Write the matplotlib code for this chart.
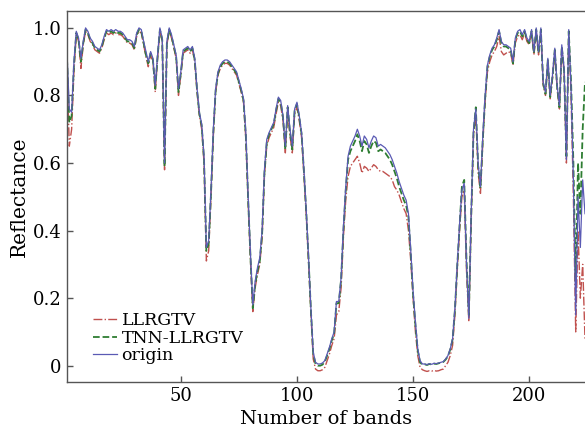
import numpy as np
import matplotlib
matplotlib.use("Agg")
import matplotlib.pyplot as plt

# reflectance spectra, one value per band (1..224)
origin = [
    0.93, 0.76, 0.75, 0.90, 0.99, 0.97, 0.91, 0.96, 1.00, 0.99,
    0.97, 0.96, 0.945, 0.94, 0.935, 0.95, 0.975, 0.995, 0.99, 0.995,
    0.99, 0.995, 0.99, 0.99, 0.985, 0.975, 0.965, 0.965, 0.96, 0.945,
    0.985, 1.00, 0.995, 0.96, 0.93, 0.90, 0.93, 0.91, 0.83, 0.92,
    1.00, 0.97, 0.60, 0.96, 1.00, 0.98, 0.95, 0.92, 0.82, 0.87,
    0.935, 0.94, 0.945, 0.935, 0.945, 0.91, 0.82, 0.75, 0.715, 0.62,
    0.35, 0.37, 0.52, 0.70, 0.82, 0.87, 0.89, 0.90, 0.905, 0.905,
    0.90, 0.89, 0.88, 0.87, 0.845, 0.82, 0.79, 0.69, 0.50, 0.33,
    0.18, 0.25, 0.29, 0.32, 0.40, 0.58, 0.67, 0.69, 0.705, 0.72,
    0.76, 0.795, 0.785, 0.74, 0.65, 0.77, 0.70, 0.65, 0.76, 0.78,
    0.74, 0.69, 0.58, 0.46, 0.32, 0.17, 0.04, 0.01, 0.005, 0.005,
    0.008, 0.015, 0.035, 0.055, 0.08, 0.10, 0.19, 0.19, 0.26, 0.41,
    0.53, 0.62, 0.65, 0.665, 0.68, 0.70, 0.68, 0.65, 0.68, 0.67,
    0.645, 0.665, 0.68, 0.675, 0.65, 0.655, 0.65, 0.645, 0.635, 0.625,
    0.61, 0.59, 0.57, 0.545, 0.525, 0.505, 0.49, 0.45, 0.34, 0.22,
    0.13, 0.05, 0.015, 0.005, 0.005, 0.003, 0.006, 0.004, 0.007, 0.006,
    0.008, 0.01, 0.012, 0.02, 0.03, 0.05, 0.08, 0.17, 0.30, 0.42,
    0.52, 0.54, 0.30, 0.14, 0.45, 0.70, 0.76, 0.60, 0.53, 0.68,
    0.80, 0.89, 0.92, 0.94, 0.95, 0.97, 0.995, 0.96, 0.95, 0.95,
    0.945, 0.94, 0.90, 0.97, 0.99, 0.995, 0.98, 0.995, 0.97, 0.96,
    0.995, 0.93, 1.00, 0.93, 1.00, 0.84, 0.81, 0.91, 0.80, 0.86,
    0.94, 0.83, 0.77, 0.95, 0.88, 0.61, 0.995, 0.82, 0.55, 0.15,
    0.50, 0.35, 0.55, 0.45,
]

tnn_llrgtv = [
    0.91, 0.72, 0.74, 0.89, 0.985, 0.965, 0.90, 0.955, 0.995, 0.985,
    0.965, 0.955, 0.94, 0.935, 0.93, 0.945, 0.97, 0.99, 0.985, 0.99,
    0.985, 0.99, 0.985, 0.985, 0.98, 0.97, 0.96, 0.96, 0.955, 0.94,
    0.98, 0.995, 0.99, 0.955, 0.92, 0.895, 0.925, 0.905, 0.82, 0.915,
    0.995, 0.965, 0.59, 0.955, 0.995, 0.975, 0.945, 0.915, 0.81, 0.865,
    0.93, 0.935, 0.94, 0.93, 0.94, 0.905, 0.815, 0.745, 0.71, 0.61,
    0.34, 0.36, 0.51, 0.69, 0.815, 0.865, 0.885, 0.895, 0.90, 0.90,
    0.895, 0.885, 0.875, 0.865, 0.84, 0.815, 0.785, 0.68, 0.49, 0.32,
    0.17, 0.24, 0.28, 0.31, 0.39, 0.57, 0.66, 0.685, 0.70, 0.715,
    0.755, 0.79, 0.78, 0.735, 0.64, 0.765, 0.69, 0.64, 0.755, 0.775,
    0.735, 0.685, 0.575, 0.455, 0.315, 0.165, 0.035, 0.005, 0.0, 0.0,
    0.003, 0.012, 0.03, 0.05, 0.075, 0.095, 0.185, 0.185, 0.255, 0.40,
    0.52, 0.61, 0.635, 0.65, 0.665, 0.685, 0.665, 0.635, 0.665, 0.655,
    0.63, 0.65, 0.665, 0.66, 0.635, 0.64, 0.635, 0.63, 0.62, 0.61,
    0.595, 0.575, 0.555, 0.53, 0.51, 0.49, 0.475, 0.44, 0.33, 0.21,
    0.12, 0.045, 0.01, 0.003, 0.004, 0.002, 0.005, 0.003, 0.006, 0.005,
    0.007, 0.009, 0.011, 0.018, 0.028, 0.048, 0.078, 0.165, 0.295, 0.415,
    0.53, 0.55, 0.31, 0.15, 0.44, 0.69, 0.765, 0.59, 0.525, 0.67,
    0.79, 0.885, 0.915, 0.935, 0.945, 0.965, 0.99, 0.955, 0.945, 0.945,
    0.94, 0.935, 0.895, 0.965, 0.985, 0.99, 0.975, 0.99, 0.965, 0.955,
    0.99, 0.925, 0.995, 0.925, 0.995, 0.835, 0.805, 0.905, 0.795, 0.855,
    0.935, 0.825, 0.765, 0.945, 0.875, 0.62, 0.99, 0.84, 0.60, 0.25,
    0.60, 0.45, 0.70, 0.84,
]

llrgtv = [
    0.88, 0.65, 0.70, 0.87, 0.98, 0.96, 0.88, 0.95, 0.99, 0.98,
    0.96, 0.95, 0.935, 0.93, 0.925, 0.94, 0.965, 0.985, 0.98, 0.985,
    0.98, 0.985, 0.98, 0.98, 0.975, 0.965, 0.955, 0.955, 0.95, 0.935,
    0.975, 0.99, 0.985, 0.95, 0.915, 0.885, 0.92, 0.90, 0.81, 0.91,
    0.99, 0.96, 0.58, 0.95, 0.99, 0.97, 0.94, 0.91, 0.80, 0.86,
    0.925, 0.93, 0.935, 0.925, 0.935, 0.90, 0.81, 0.74, 0.70, 0.60,
    0.31, 0.34, 0.50, 0.68, 0.81, 0.86, 0.88, 0.89, 0.895, 0.895,
    0.89, 0.88, 0.87, 0.86, 0.835, 0.81, 0.78, 0.67, 0.48, 0.31,
    0.16, 0.23, 0.27, 0.30, 0.38, 0.56, 0.65, 0.675, 0.69, 0.705,
    0.745, 0.78, 0.77, 0.725, 0.63, 0.755, 0.68, 0.63, 0.745, 0.765,
    0.725, 0.675, 0.565, 0.445, 0.305, 0.155, 0.02, -0.01, -0.015, -0.015,
    -0.012, -0.005, 0.015, 0.035, 0.06, 0.08, 0.15, 0.16, 0.23, 0.38,
    0.49, 0.56, 0.59, 0.60, 0.61, 0.62, 0.60, 0.57, 0.59, 0.585,
    0.575, 0.585, 0.595, 0.59, 0.58, 0.575, 0.575, 0.57, 0.565, 0.56,
    0.55, 0.53, 0.52, 0.505, 0.485, 0.465, 0.45, 0.40, 0.31, 0.20,
    0.10, 0.03, -0.005, -0.012, -0.015, -0.017, -0.015, -0.016, -0.014, -0.016,
    -0.015, -0.012, -0.01, 0.0, 0.01, 0.03, 0.06, 0.15, 0.28, 0.40,
    0.50, 0.52, 0.28, 0.13, 0.43, 0.68, 0.74, 0.57, 0.51, 0.66,
    0.78, 0.87, 0.90, 0.92, 0.93, 0.945, 0.975, 0.93, 0.92, 0.925,
    0.93, 0.925, 0.89, 0.955, 0.975, 0.98, 0.965, 0.985, 0.96, 0.95,
    0.985, 0.92, 0.99, 0.92, 0.99, 0.83, 0.80, 0.90, 0.79, 0.85,
    0.93, 0.82, 0.76, 0.94, 0.87, 0.60, 0.98, 0.80, 0.50, 0.10,
    0.40, 0.20, 0.30, 0.08,
]

bands = np.arange(1, len(origin) + 1)
xticks = [50, 100, 150, 200]
yticks = [0, 0.2, 0.4, 0.6, 0.8, 1.0]
ytick_labels = ['0', '0.2', '0.4', '0.6', '0.8', '1.0']

plt.rcParams['font.family'] = ['DejaVu Serif']

fig = plt.figure(figsize=(5.85, 4.32), dpi=100)
ax = fig.add_axes([0.1145, 0.116, 0.8855, 0.8585])

ax.plot(bands, llrgtv, color='#c0504d', linestyle='-.', linewidth=1.0, label='LLRGTV')
ax.plot(bands, tnn_llrgtv, color='#2e7d32', linestyle='--', linewidth=1.3, label='TNN-LLRGTV')
ax.plot(bands, origin, color='#5a5ab4', linestyle='-', linewidth=0.9, label='origin')

ax.set_xlim(1, 224)
ax.set_ylim(-0.048, 1.05)
ax.set_xticks(xticks)
ax.set_yticks(yticks)
ax.set_yticklabels(ytick_labels)
ax.tick_params(direction='in', length=4, width=1, color='#555555', labelsize=13, pad=4)

for side in ['left', 'bottom', 'top']:
    ax.spines[side].set_color('#555555')
    ax.spines[side].set_linewidth(1.0)
ax.spines['right'].set_visible(False)

ax.set_xlabel('Number of bands', fontsize=14, labelpad=3)
ax.set_ylabel('Reflectance', fontsize=14.5, labelpad=3)

ax.legend(loc='lower left', bbox_to_anchor=(0.03, 0.02), frameon=False,
          fontsize=12.5, handlelength=1.4, handletextpad=0.25,
          labelspacing=0.02, borderaxespad=0.2)

fig.savefig('out.png', dpi=100)
